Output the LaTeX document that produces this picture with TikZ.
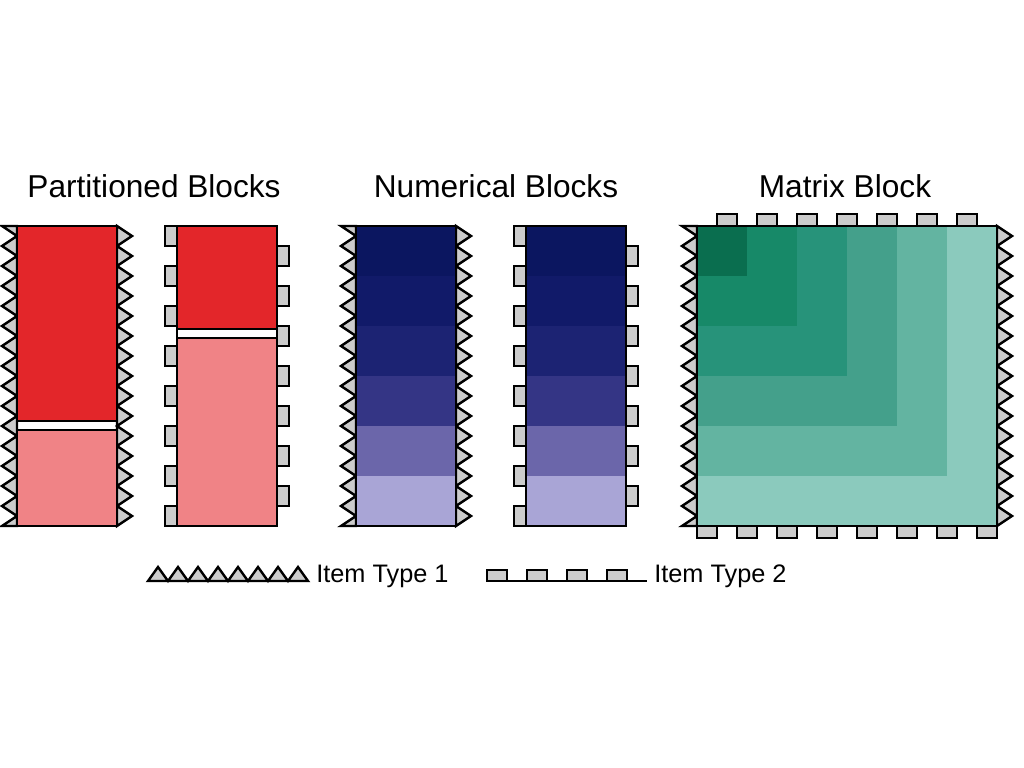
\documentclass[tikz,border=0pt]{standalone}
\usepackage{fontspec}
\setmainfont{Liberation Sans}
\usepackage{xcolor}
\usepackage{tikz}

\definecolor{redA}{HTML}{E3262A}
\definecolor{pinkA}{HTML}{F08386}
\definecolor{navyA}{HTML}{0B1660}
\definecolor{navyB}{HTML}{111A69}
\definecolor{navyC}{HTML}{1C2373}
\definecolor{navyD}{HTML}{343585}
\definecolor{navyE}{HTML}{6B66AA}
\definecolor{navyF}{HTML}{A9A5D6}
\definecolor{greenA}{HTML}{0A6E4F}
\definecolor{greenB}{HTML}{178968}
\definecolor{greenC}{HTML}{27937A}
\definecolor{greenD}{HTML}{44A08B}
\definecolor{greenE}{HTML}{63B4A1}
\definecolor{greenF}{HTML}{8BCABD}

\newcommand{\sawleft}[2]{\draw[item] (#1,#2) -- (#1-0.75,#2)
  \foreach \k in {0,...,14}{ -- (#1,#2+\k+0.5) -- (#1-0.75,#2+\k+1)} -- (#1,#2+15) -- cycle;}
\newcommand{\sawright}[2]{\draw[item] (#1,#2)
  \foreach \k in {0,...,14}{ -- (#1+0.75,#2+\k+0.5) -- (#1,#2+\k+1)} -- cycle;}
\newcommand{\tableft}[2]{\foreach \k in {0,...,7}
  \draw[item] (#1-0.6,#2+2*\k) rectangle (#1,#2+2*\k+1);}
\newcommand{\tabright}[2]{\foreach \k in {0,...,6}
  \draw[item] (#1,#2+2*\k+1) rectangle (#1+0.6,#2+2*\k+2);}
\newcommand{\partblock}[3]{\fill[redA] (#1,#2) rectangle (#1+5,#2+#3);
  \fill[pinkA] (#1,#2+#3+0.45) rectangle (#1+5,#2+15);
  \draw[blk] (#1,#2+#3) -- (#1+5,#2+#3) (#1,#2+#3+0.45) -- (#1+5,#2+#3+0.45);
  \draw[blk] (#1,#2) rectangle (#1+5,#2+15);}
\newcommand{\numblock}[2]{\foreach \c [count=\i from 0] in {navyA,navyB,navyC,navyD,navyE,navyF}
  \fill[\c] (#1,#2+2.5*\i) rectangle (#1+5,#2+2.5*\i+2.5);
  \draw[blk] (#1,#2) rectangle (#1+5,#2+15);}

\begin{document}
\begin{tikzpicture}[x=0.5cm,y=-0.5cm,
  blk/.style={line width=2pt},
  item/.style={draw,fill=gray!40,line width=1.7pt},
  ttl/.style={font=\fontsize{22.5}{26}\selectfont,anchor=base},
  lab/.style={font=\fontsize{18}{21}\selectfont,anchor=base west,inner sep=0pt}]
\useasboundingbox (0,0) rectangle (51.2,38.4);

\node[ttl] (partT) at (7.7,9.85) {Partitioned Blocks};
\node[ttl] (numT) at (24.8,9.85) {Numerical Blocks};
\node[ttl] (matT) at (42.25,9.85) {Matrix Block};

\sawleft{0.85}{11.3}
\sawright{5.85}{11.3}
\partblock{0.85}{11.3}{9.75}

\tableft{8.85}{11.3}
\tabright{13.85}{11.3}
\partblock{8.85}{11.3}{5.15}

\sawleft{17.8}{11.3}
\sawright{22.8}{11.3}
\numblock{17.8}{11.3}

\tableft{26.3}{11.3}
\tabright{31.3}{11.3}
\numblock{26.3}{11.3}

\sawleft{34.85}{11.3}
\sawright{49.85}{11.3}
\foreach \k in {0,...,6}
  \draw[item] (35.85+2*\k,10.7) rectangle (36.85+2*\k,11.3);
\foreach \k in {0,...,7}
  \draw[item] (34.85+2*\k,26.3) rectangle (35.85+2*\k,26.9);
\foreach \c [count=\i] in {greenF,greenE,greenD,greenC,greenB,greenA}
  \fill[\c] (34.85,11.3) rectangle (34.85+17.5-2.5*\i,11.3+17.5-2.5*\i);
\draw[blk] (34.85,11.3) rectangle (49.85,26.3);

\draw[item] (7.4,29.05) \foreach \k in {0,...,7}{ -- (7.9+\k,28.35) -- (8.4+\k,29.05)} -- cycle;
\node[lab] (leg1) at (15.8,29.1) {Item Type 1};
\draw[line width=1.7pt] (24.35,29.05) -- (32.35,29.05);
\foreach \k in {0,...,3}
  \draw[item] (24.35+2*\k,28.5) rectangle (25.35+2*\k,29.05);
\node[lab] (leg2) at (32.7,29.1) {Item Type 2};
\end{tikzpicture}
\end{document}
